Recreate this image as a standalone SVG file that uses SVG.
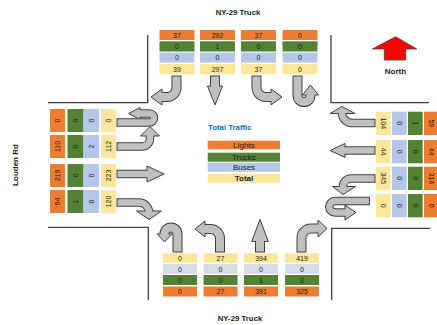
<svg xmlns="http://www.w3.org/2000/svg" width="437" height="325" viewBox="0 0 437 325">
<style>
text{font-family:"Liberation Sans",Arial,sans-serif;fill:#1a1a1a}
.n{font-size:7px;text-anchor:middle;dominant-baseline:central}
.lb{font-size:7.8px;font-weight:bold;text-anchor:middle;dominant-baseline:central}
.lg{font-size:8px;text-anchor:middle;dominant-baseline:central}
.or{fill:#ed7d31}.gr{fill:#548235}.bl{fill:#b4c7e7}.bl2{fill:#d6dce5}.ye{fill:#ffe699}
.road{fill:none;stroke:#404040;stroke-width:1.3}
.ov{fill:none;stroke:#404040;stroke-width:10}
.iv{fill:none;stroke:#c0c0c0;stroke-width:8}
.oh{fill:none;stroke:#404040;stroke-width:8.5}
.ih{fill:none;stroke:#c0c0c0;stroke-width:6.5}
.hd{fill:#c0c0c0;stroke:#404040;stroke-width:1;stroke-linejoin:miter}
</style>

<g id="roads">
<path class="road" d="M147.7,35 V102.7 H48"/>
<path class="road" d="M331,35 V102.7 H429"/>
<path class="road" d="M48,227.3 H148.3 V300"/>
<path class="road" d="M430,228.3 H331.7 V300"/>
</g>

<text class="lb" x="238" y="12.5">NY-29 Truck</text>
<text class="lb" x="240" y="318.5">NY-29 Truck</text>
<text class="lb" x="15" y="165" transform="rotate(-90 15 165)" style="font-size:8px">Louden Rd</text>

<g id="north-arrow">
<polygon points="395.7,36.7 416.7,49 405.7,49 405.7,60 384.3,60 384.3,49 372.3,49" fill="#ff0000" stroke="#404040" stroke-width="0.8"/>
<text class="lb" x="395.5" y="71" style="font-size:8px">North</text>
</g>

<g id="legend">
<text x="208" y="127.5" style="font-size:7.8px;font-weight:bold;fill:#0070c0;dominant-baseline:central">Total Traffic</text>
<rect class="or" x="207.7" y="140.7" width="72.3" height="8.6"/>
<rect class="gr" x="207.7" y="152.7" width="72.3" height="9"/>
<rect class="bl" x="207.7" y="162.7" width="72.3" height="9"/>
<rect class="ye" x="207.7" y="174" width="72.3" height="8.7"/>
<text class="lg" x="244" y="145">Lights</text>
<text class="lg" x="244" y="157.2">Trucks</text>
<text class="lg" x="244" y="167.2">Buses</text>
<text class="lg" x="244" y="178.4" style="font-weight:bold">Total</text>
</g>

<g id="north-approach">
<rect class="or" x="159.5" y="30" width="35" height="10"/><rect class="gr" x="159.5" y="41.3" width="35" height="10.2"/><rect class="bl" x="159.5" y="52.6" width="35" height="10"/><rect class="ye" x="159.5" y="63.8" width="35" height="10.3"/>
<text class="n" x="177" y="35">37</text><text class="n" x="177" y="46.4">0</text><text class="n" x="177" y="57.6">0</text><text class="n" x="177" y="69">39</text>
<rect class="or" x="200" y="30" width="35" height="10"/><rect class="gr" x="200" y="41.3" width="35" height="10.2"/><rect class="bl" x="200" y="52.6" width="35" height="10"/><rect class="ye" x="200" y="63.8" width="35" height="10.3"/>
<text class="n" x="217.5" y="35">292</text><text class="n" x="217.5" y="46.4">1</text><text class="n" x="217.5" y="57.6">0</text><text class="n" x="217.5" y="69">297</text>
<rect class="or" x="241" y="30" width="35" height="10"/><rect class="gr" x="241" y="41.3" width="35" height="10.2"/><rect class="bl" x="241" y="52.6" width="35" height="10"/><rect class="ye" x="241" y="63.8" width="35" height="10.3"/>
<text class="n" x="258.5" y="35">37</text><text class="n" x="258.5" y="46.4">0</text><text class="n" x="258.5" y="57.6">0</text><text class="n" x="258.5" y="69">37</text>
<rect class="or" x="282.5" y="30" width="35" height="10"/><rect class="gr" x="282.5" y="41.3" width="35" height="10.2"/><rect class="bl" x="282.5" y="52.6" width="35" height="10"/><rect class="ye" x="282.5" y="63.8" width="35" height="10.3"/>
<text class="n" x="300" y="35">0</text><text class="n" x="300" y="46.4">0</text><text class="n" x="300" y="57.6">0</text><text class="n" x="300" y="69">0</text>
</g>

<g id="south-approach">
<rect class="ye" x="163" y="253.3" width="34" height="9.5"/><rect class="bl2" x="163" y="264" width="34" height="9.8"/><rect class="gr" x="163" y="275" width="34" height="10"/><rect class="or" x="163" y="286.5" width="34" height="10"/>
<text class="n" x="180" y="258">0</text><text class="n" x="180" y="269">0</text><text class="n" x="180" y="280">0</text><text class="n" x="180" y="291.5">0</text>
<rect class="ye" x="203.5" y="253.3" width="34" height="9.5"/><rect class="bl2" x="203.5" y="264" width="34" height="9.8"/><rect class="gr" x="203.5" y="275" width="34" height="10"/><rect class="or" x="203.5" y="286.5" width="34" height="10"/>
<text class="n" x="220.5" y="258">27</text><text class="n" x="220.5" y="269">0</text><text class="n" x="220.5" y="280">0</text><text class="n" x="220.5" y="291.5">27</text>
<rect class="ye" x="244" y="253.3" width="34" height="9.5"/><rect class="bl2" x="244" y="264" width="34" height="9.8"/><rect class="gr" x="244" y="275" width="34" height="10"/><rect class="or" x="244" y="286.5" width="34" height="10"/>
<text class="n" x="261" y="258">394</text><text class="n" x="261" y="269">0</text><text class="n" x="261" y="280">1</text><text class="n" x="261" y="291.5">391</text>
<rect class="ye" x="285" y="253.3" width="34" height="9.5"/><rect class="bl2" x="285" y="264" width="34" height="9.8"/><rect class="gr" x="285" y="275" width="34" height="10"/><rect class="or" x="285" y="286.5" width="34" height="10"/>
<text class="n" x="302" y="258">419</text><text class="n" x="302" y="269">0</text><text class="n" x="302" y="280">2</text><text class="n" x="302" y="291.5">325</text>
</g>

<g id="west-approach">
<rect class="or" x="50" y="109" width="15" height="23"/><rect class="gr" x="67.5" y="109" width="16" height="23"/><rect class="bl" x="83.5" y="109" width="15.5" height="23"/><rect class="ye" x="101" y="109" width="15" height="23"/>
<text class="n" x="57.5" y="120.5" transform="rotate(-90 57.5 120.5)">0</text><text class="n" x="75.5" y="120.5" transform="rotate(-90 75.5 120.5)">0</text><text class="n" x="91.2" y="120.5" transform="rotate(-90 91.2 120.5)">0</text><text class="n" x="108.5" y="120.5" transform="rotate(-90 108.5 120.5)">0</text>
<rect class="or" x="50" y="135" width="15" height="23"/><rect class="gr" x="67.5" y="135" width="16" height="23"/><rect class="bl" x="83.5" y="135" width="15.5" height="23"/><rect class="ye" x="101" y="135" width="15" height="23"/>
<text class="n" x="57.5" y="146.5" transform="rotate(-90 57.5 146.5)">110</text><text class="n" x="75.5" y="146.5" transform="rotate(-90 75.5 146.5)">0</text><text class="n" x="91.2" y="146.5" transform="rotate(-90 91.2 146.5)">2</text><text class="n" x="108.5" y="146.5" transform="rotate(-90 108.5 146.5)">112</text>
<rect class="or" x="50" y="164" width="15" height="23"/><rect class="gr" x="67.5" y="164" width="16" height="23"/><rect class="bl" x="83.5" y="164" width="15.5" height="23"/><rect class="ye" x="101" y="164" width="15" height="23"/>
<text class="n" x="57.5" y="175.5" transform="rotate(-90 57.5 175.5)">219</text><text class="n" x="75.5" y="175.5" transform="rotate(-90 75.5 175.5)">0</text><text class="n" x="91.2" y="175.5" transform="rotate(-90 91.2 175.5)">0</text><text class="n" x="108.5" y="175.5" transform="rotate(-90 108.5 175.5)">223</text>
<rect class="or" x="50" y="190" width="15" height="23"/><rect class="gr" x="67.5" y="190" width="16" height="23"/><rect class="bl" x="83.5" y="190" width="15.5" height="23"/><rect class="ye" x="101" y="190" width="15" height="23"/>
<text class="n" x="57.5" y="201.5" transform="rotate(-90 57.5 201.5)">94</text><text class="n" x="75.5" y="201.5" transform="rotate(-90 75.5 201.5)">1</text><text class="n" x="91.2" y="201.5" transform="rotate(-90 91.2 201.5)">0</text><text class="n" x="108.5" y="201.5" transform="rotate(-90 108.5 201.5)">120</text>
</g>

<g id="east-approach">
<rect class="ye" x="376" y="111.7" width="14.7" height="23.3"/><rect class="bl" x="392" y="111.7" width="14.7" height="23.3"/><rect class="gr" x="408" y="111.7" width="14.7" height="23.3"/><rect class="or" x="424" y="111.7" width="16" height="23.3"/>
<text class="n" x="383.3" y="123.3" transform="rotate(90 383.3 123.3)">104</text><text class="n" x="399.3" y="123.3" transform="rotate(90 399.3 123.3)">0</text><text class="n" x="415.3" y="123.3" transform="rotate(90 415.3 123.3)">1</text><text class="n" x="431.5" y="123.3" transform="rotate(90 431.5 123.3)">59</text>
<rect class="ye" x="376" y="140" width="14.7" height="23.3"/><rect class="bl" x="392" y="140" width="14.7" height="23.3"/><rect class="gr" x="408" y="140" width="14.7" height="23.3"/><rect class="or" x="424" y="140" width="16" height="23.3"/>
<text class="n" x="383.3" y="151.6" transform="rotate(90 383.3 151.6)">44</text><text class="n" x="399.3" y="151.6" transform="rotate(90 399.3 151.6)">0</text><text class="n" x="415.3" y="151.6" transform="rotate(90 415.3 151.6)">0</text><text class="n" x="431.5" y="151.6" transform="rotate(90 431.5 151.6)">44</text>
<rect class="ye" x="376" y="166.7" width="14.7" height="23.3"/><rect class="bl" x="392" y="166.7" width="14.7" height="23.3"/><rect class="gr" x="408" y="166.7" width="14.7" height="23.3"/><rect class="or" x="424" y="166.7" width="16" height="23.3"/>
<text class="n" x="383.3" y="178.3" transform="rotate(90 383.3 178.3)">345</text><text class="n" x="399.3" y="178.3" transform="rotate(90 399.3 178.3)">0</text><text class="n" x="415.3" y="178.3" transform="rotate(90 415.3 178.3)">0</text><text class="n" x="431.5" y="178.3" transform="rotate(90 431.5 178.3)">314</text>
<rect class="ye" x="376" y="194" width="14.7" height="23.3"/><rect class="bl" x="392" y="194" width="14.7" height="23.3"/><rect class="gr" x="408" y="194" width="14.7" height="23.3"/><rect class="or" x="424" y="194" width="16" height="23.3"/>
<text class="n" x="383.3" y="205.6" transform="rotate(90 383.3 205.6)">0</text><text class="n" x="399.3" y="205.6" transform="rotate(90 399.3 205.6)">0</text><text class="n" x="415.3" y="205.6" transform="rotate(90 415.3 205.6)">0</text><text class="n" x="431.5" y="205.6" transform="rotate(90 431.5 205.6)">0</text>
</g>

<g id="connectors">
<!-- southbound (top) -->
<path class="ov" d="M176.5,75.5 V87.5 A9.5,9.5 0 0 1 167,97 H162"/>
<polygon class="hd" points="162,89 162,105 151,97"/>
<path class="iv" d="M176.5,76.5 V87.5 A9.5,9.5 0 0 1 167,97 H161"/>

<path class="ov" d="M215,75.5 V86"/>
<polygon class="hd" points="207.5,86 222.5,86 215,105"/>
<path class="iv" d="M215,76.5 V87"/>

<path class="ov" d="M256.5,75.5 V87.5 A9.5,9.5 0 0 0 266,97 H271"/>
<polygon class="hd" points="271,89 271,105 282,97"/>
<path class="iv" d="M256.5,76.5 V87.5 A9.5,9.5 0 0 0 266,97 H272"/>

<path class="ov" d="M297.5,75.5 V95.5 A6.5,6.5 0 0 0 310.5,95.5 V95"/>
<polygon class="hd" points="302.5,95 318.5,95 310.5,85"/>
<path class="iv" d="M297.5,76.5 V95.5 A6.5,6.5 0 0 0 310.5,95.5 V94"/>

<!-- northbound (bottom) -->
<path class="ov" d="M177.5,252.5 V234 A6.5,6.5 0 0 0 164.5,234"/>
<polygon class="hd" points="157,234 172,234 164.5,242"/>
<path class="iv" d="M177.5,251.5 V234 A6.5,6.5 0 0 0 164.5,234 V235"/>

<path class="ov" d="M220,252.5 V238.5 A9.5,9.5 0 0 0 210.5,229 H205"/>
<polygon class="hd" points="205,221 205,237 195,229"/>
<path class="iv" d="M220,251.5 V238.5 A9.5,9.5 0 0 0 210.5,229 H204"/>

<path class="ov" d="M260,252.5 V241.5"/>
<polygon class="hd" points="251.7,241.5 268.3,241.5 260,219.3"/>
<path class="iv" d="M260,251.5 V240.5"/>

<path class="ov" d="M301.5,252.5 V238 A9.5,9.5 0 0 1 311,228.5 H318"/>
<polygon class="hd" points="318,220 318,237 327,228.5"/>
<path class="iv" d="M301.5,251.5 V238 A9.5,9.5 0 0 1 311,228.5 H319"/>

<!-- eastbound (left) -->
<path class="oh" d="M116.5,122.5 H149.5 A4.5,4.5 0 0 0 149.5,113.5 H140"/>
<polygon class="hd" points="140,107.5 140,119.5 128.5,113.5"/>
<path class="ih" d="M117.5,122.5 H149.5 A4.5,4.5 0 0 0 149.5,113.5 H139"/>

<path class="oh" d="M116.5,146.5 H142 A8,8 0 0 0 150,138.5 V136"/>
<polygon class="hd" points="140.5,136 159.5,136 150,126.5"/>
<path class="ih" d="M117.5,146.5 H142 A8,8 0 0 0 150,138.5 V135"/>

<path class="oh" d="M116.5,174 H147"/>
<polygon class="hd" points="147,166 147,182 164,174"/>
<path class="ih" d="M117.5,174 H148"/>

<path class="oh" d="M116.5,202.5 H139 A10,10 0 0 1 149,212.5"/>
<polygon class="hd" points="136.5,211 161.5,211 149,219.5"/>
<path class="ih" d="M117.5,202.5 H139 A10,10 0 0 1 149,212.5"/>

<!-- westbound (right) -->
<path class="oh" d="M375.5,123 H352 A10,10 0 0 1 342,113"/>
<polygon class="hd" points="330,113.5 355,113.5 342,106.5"/>
<path class="ih" d="M374.5,123 H352 A10,10 0 0 1 342,113 V112.5"/>

<path class="oh" d="M375.5,150.5 H345"/>
<polygon class="hd" points="345,143.5 345,157.5 330,150.5"/>
<path class="ih" d="M374.5,150.5 H344"/>

<path class="oh" d="M375.5,178.5 H351 A8,8 0 0 0 343,186.5"/>
<polygon class="hd" points="332.5,186.5 355.5,186.5 343,194.5"/>
<path class="ih" d="M374.5,178.5 H351 A8,8 0 0 0 343,186.5 V187.5"/>

<path class="oh" d="M370,201 H335 A5.75,5.75 0 0 0 335,212.5 H345"/>
<polygon class="hd" points="345,205 345,220 356,212.5"/>
<path class="ih" d="M369,201 H335 A5.75,5.75 0 0 0 335,212.5 H346"/>
</g>
</svg>
